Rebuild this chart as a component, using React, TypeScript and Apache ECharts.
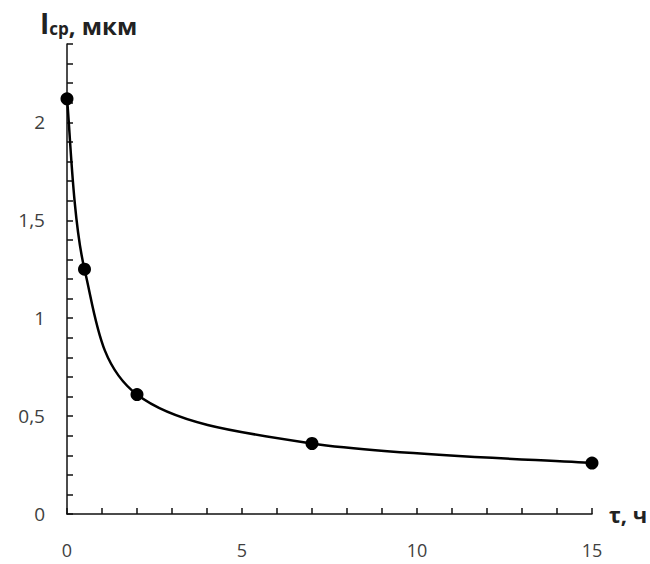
import React, { useEffect, useRef } from "react";
import * as echarts from "echarts";

// Measured points: time τ (h) vs mean size I_ср (µm)
const timeHours = [0, 0.5, 2, 7, 15];
const meanSize = [2.12, 1.25, 0.61, 0.36, 0.26];

const xTickValues = [0, 5, 10, 15];
const yTickValues = [0, 0.5, 1, 1.5, 2];

const labelFont = "Open Sans";
const labelColor = "#404040";
const inkColor = "#111";

// Smoothed line through the points (Catmull-Rom converted to cubic Béziers, in pixel space)
function smoothPath(pts: number[][]): string {
  if (pts.length < 2) return "";
  let d = `M${pts[0][0]},${pts[0][1]}`;
  for (let i = 0; i < pts.length - 1; i++) {
    const p0 = pts[Math.max(i - 1, 0)];
    const p1 = pts[i];
    const p2 = pts[i + 1];
    const p3 = pts[Math.min(i + 2, pts.length - 1)];
    const c1x = p1[0] + (p2[0] - p0[0]) / 6;
    const c1y = p1[1] + (p2[1] - p0[1]) / 6;
    const c2x = p2[0] - (p3[0] - p1[0]) / 6;
    const c2y = p2[1] - (p3[1] - p1[1]) / 6;
    d += ` C${c1x},${c1y} ${c2x},${c2y} ${p2[0]},${p2[1]}`;
  }
  return d;
}

const isMultiple = (v: number, list: number[]) => list.some((t) => Math.abs(t - v) < 1e-6);

export default function App() {
  const ref = useRef<HTMLDivElement>(null);

  useEffect(() => {
    if (!ref.current) return;
    const chart = echarts.init(ref.current, undefined, { renderer: "svg" });
    const points = timeHours.map((t, i) => [t, meanSize[i]]);

    const tickStyle = () => ({
      show: true,
      inside: true,
      length: 6,
      lineStyle: { color: inkColor, width: 1.5 },
    });

    chart.setOption({
      animation: false,
      backgroundColor: "#ffffff",
      grid: {
        left: 67,
        right: 58,
        top: 44,
        bottom: 50,
        containLabel: false,
        outerBoundsMode: "none",
      },
      xAxis: {
        type: "value",
        min: 0,
        max: 15,
        interval: 1,
        name: "τ, ч",
        nameLocation: "end",
        nameGap: 17,
        nameTextStyle: {
          fontFamily: labelFont,
          fontWeight: "bold",
          fontSize: 22,
          color: "#222",
          align: "left",
          verticalAlign: "middle",
        },
        axisLine: { show: true, lineStyle: { color: inkColor, width: 1.5 } },
        axisTick: tickStyle(),
        splitLine: { show: false },
        axisLabel: {
          margin: 27,
          fontFamily: labelFont,
          fontSize: 18,
          lineHeight: 18,
          color: labelColor,
          formatter: (v: number) => (isMultiple(v, xTickValues) ? String(Math.round(v)) : ""),
        },
      },
      yAxis: {
        type: "value",
        min: 0,
        max: 2.4,
        interval: 0.1,
        axisLine: { show: true, lineStyle: { color: inkColor, width: 1.5 } },
        axisTick: tickStyle(),
        splitLine: { show: false },
        axisLabel: {
          margin: 22,
          fontFamily: labelFont,
          fontSize: 19,
          color: labelColor,
          formatter: (v: number) => {
            const hit = yTickValues.find((t) => Math.abs(t - v) < 1e-6);
            return hit === undefined ? "" : String(hit).replace(".", ",");
          },
        },
      },
      graphic: [
        {
          type: "text",
          left: 40,
          top: 9,
          style: {
            text: "{i|I}{s|ср}{t|, мкм}",
            rich: {
              i: {
                fontFamily: labelFont,
                fontWeight: "bold",
                fontSize: 28,
                lineHeight: 31,
                fill: "#222",
                verticalAlign: "bottom",
              },
              s: {
                fontFamily: labelFont,
                fontWeight: "bold",
                fontSize: 17,
                lineHeight: 17,
                fill: "#222",
                verticalAlign: "bottom",
              },
              t: {
                fontFamily: labelFont,
                fontWeight: "bold",
                fontSize: 24,
                lineHeight: 28,
                fill: "#222",
                verticalAlign: "bottom",
              },
            },
          },
        },
      ],
      series: [
        {
          type: "custom",
          data: points,
          silent: true,
          z: 2,
          renderItem: (params: any, api: any) => {
            if (params.dataIndex !== 0) return null;
            const px = points.map((p) => api.coord(p));
            return {
              type: "path",
              shape: { pathData: smoothPath(px) },
              style: { stroke: "#000", lineWidth: 2.5, fill: "none" },
            };
          },
        },
        {
          type: "scatter",
          data: points,
          symbol: "circle",
          symbolSize: 13,
          itemStyle: { color: "#000", opacity: 1 },
          silent: true,
          z: 3,
        },
      ],
    });

    return () => chart.dispose();
  }, []);

  return (
    <div
      ref={ref}
      style={{ position: "fixed", left: 0, top: 0, width: 650, height: 564, background: "#fff" }}
    />
  );
}
